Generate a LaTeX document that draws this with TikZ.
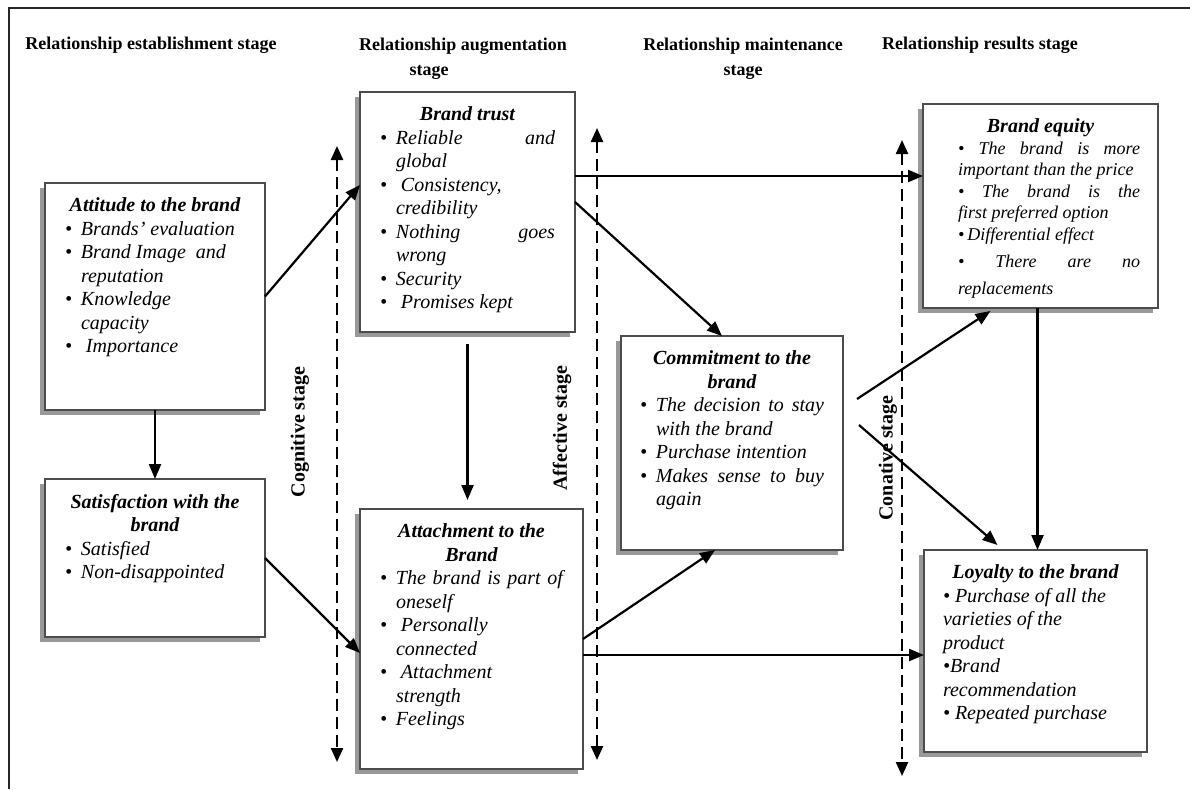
\documentclass[tikz,border=0pt]{standalone}
\usepackage{fontspec}
\setmainfont{Liberation Serif}
\usetikzlibrary{arrows.meta, positioning, shadows}

\newcommand{\boxfont}{\fontsize{20}{23.5}\selectfont\itshape}
\newcommand{\btitle}[1]{\noindent\makebox[\linewidth]{\bfseries #1}\par}
\newcommand{\bitem}{\par\noindent\hangindent=16pt\hangafter=1\makebox[16pt][l]{\textbullet}}

\tikzstyle{block} = [rectangle, draw=black!70, line width=1.4pt, fill=white, inner sep=0pt, outer sep=0pt, anchor=north west, font=\boxfont, drop shadow={shadow xshift=-5pt, shadow yshift=-5pt, fill=black!40, opacity=1}]
\tikzstyle{link} = [line width=2.2pt, -{Triangle[length=15pt,width=12pt]}]
\tikzstyle{stage} = [line width=2.4pt, dash pattern=on 12pt off 6pt, {Triangle[length=14pt,width=12pt]}-{Triangle[length=14pt,width=12pt]}]
\tikzstyle{header} = [font=\fontsize{18}{25}\selectfont\bfseries, align=center]
\tikzstyle{stagelabel} = [font=\fontsize{20}{24}\selectfont\bfseries, rotate=90]

\begin{document}
\begin{tikzpicture}[x=1pt, y=-1pt]
  \useasboundingbox (0,0) rectangle (1190,789);
  \draw[line width=2.2pt, black!85] (9,789) -- (9,8) -- (1190,8);

  % stage headings
  \node[header] (h1) at (151,45) {Relationship establishment stage};
  \node[header] (h2) at (463,59) {Relationship augmentation\\stage\hspace*{68pt}};
  \node[header] (h3) at (743,59) {Relationship maintenance\\stage};
  \node[header] (h4) at (980,45) {Relationship results stage};

  % boxes
  \node[block, minimum width=220pt, minimum height=227pt] (att) at (45,183) {\parbox[t][197pt][t]{180pt}{%
    \btitle{Attitude to the brand}
    \bitem Brands' evaluation
    \bitem Brand Image\ \ and\newline reputation
    \bitem Knowledge\newline capacity
    \bitem \ Importance}};
  \node[block, minimum width=220pt, minimum height=158pt] (sat) at (45,479) {\parbox[t][128pt][t]{180pt}{%
    \btitle{Satisfaction with the}
    \btitle{brand}
    \bitem Satisfied
    \bitem Non-disappointed}};
  \node[block, minimum width=215pt, minimum height=240pt] (trust) at (360,92) {\parbox[t][210pt][t]{175pt}{%
    \btitle{Brand trust}
    \bitem Reliable and\linebreak global
    \bitem \ Consistency,\newline credibility
    \bitem Nothing goes\linebreak wrong
    \bitem Security
    \bitem \ Promises kept}};
  \node[block, minimum width=223pt, minimum height=260pt] (attach) at (360,509) {\parbox[t][230pt][t]{183pt}{%
    \btitle{Attachment to the}
    \btitle{Brand}
    \bitem The brand is part of\linebreak oneself
    \bitem \ Personally\newline connected
    \bitem \ Attachment\newline strength
    \bitem Feelings}};
  \node[block, minimum width=222pt, minimum height=214pt] (commit) at (621,336) {\parbox[t][184pt][t]{184pt}{%
    \btitle{Commitment to the}
    \btitle{brand}
    \bitem The decision to stay\linebreak with the brand
    \bitem Purchase intention
    \bitem Makes sense to buy\linebreak again}};
  \node[block, minimum width=235pt, minimum height=204pt, font=\fontsize{18}{21.5}\selectfont\itshape] (equity) at (923,104) {\hspace*{17pt}\parbox[t][174pt][t]{182pt}{%
    \noindent\makebox[\linewidth]{\hspace*{-17pt}\fontsize{20}{21.5}\selectfont\bfseries Brand equity}\par
    \noindent\textbullet\ The brand is more\linebreak important than the price\par
    \noindent\textbullet\ The brand is the\linebreak first preferred option\par
    \noindent\textbullet\,Differential effect\par
    {\fontsize{18}{27}\selectfont\noindent\textbullet\ There are no\linebreak replacements\par}}};
  \node[block, minimum width=223pt, minimum height=202pt] (loyal) at (924,550) {\parbox[t][172pt][t]{185pt}{%
    \btitle{Loyalty to the brand}
    \noindent\textbullet\ Purchase of all the\newline varieties of the\newline product\par
    \noindent\textbullet Brand\newline recommendation\par
    \noindent\textbullet\ Repeated purchase\par}};

  % stages
  \coordinate (cogtop) at (337,146);
  \coordinate (cogbot) at (337,762);
  \coordinate (afftop) at (597,128);
  \coordinate (affbot) at (597,760);
  \coordinate (contop) at (902,140);
  \coordinate (conbot) at (902,776);
  \draw[stage] (cogtop) -- (cogbot);
  \draw[stage] (afftop) -- (affbot);
  \draw[stage] (contop) -- (conbot);
  \node[stagelabel] (cog) at (300,432) {Cognitive stage};
  \node[stagelabel] (aff) at (562,428) {Affective stage};
  \node[stagelabel] (con) at (888,458) {Conative stage};

  % links
  \draw[link] (att.east) -- ([yshift=27pt]trust.west);
  \draw[link] (att.south) -- (sat.north);
  \draw[link] (sat.east) -- ([yshift=-14pt]attach.west);
  \draw[link, shorten <=12pt, shorten >=9pt] (trust.south) -- (trust.south |- attach.north);
  \draw[link] ([yshift=36pt]trust.east) -- ([yshift=36pt]trust.east -| equity.west);
  \draw[link] ([yshift=10pt]trust.east) -- ([xshift=-10pt]commit.north);
  \draw[link] (attach.east) -- ([xshift=-17pt]commit.south);
  \draw[link] ([yshift=-16pt]attach.east) -- ([yshift=-16pt]attach.east -| loyal.west);
  \draw[link] ([xshift=14pt,yshift=44pt]commit.east) -- ([xshift=-50pt,yshift=-3pt]equity.south);
  \draw[link] ([xshift=16pt,yshift=18pt]commit.east) -- ([xshift=-38pt,yshift=5pt]loyal.north);
  \draw[link] ([xshift=-3pt]equity.south) -- ([xshift=-3pt]equity.south |- loyal.north);
\end{tikzpicture}
\end{document}
